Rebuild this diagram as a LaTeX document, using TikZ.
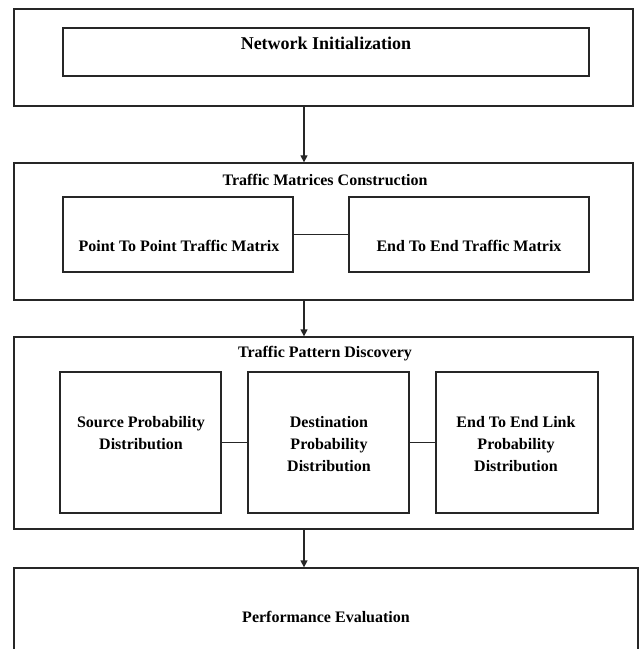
\documentclass[tikz,border=0pt]{standalone}
\usepackage{fontspec}
\setmainfont{Liberation Serif}
\usetikzlibrary{arrows.meta}
\begin{document}
\begin{tikzpicture}[x=1bp,y=-1bp,
  frame/.style={draw=black!85, line width=1.3bp, inner sep=0pt, rectangle},
  lbl/.style={font=\fontsize{16bp}{22bp}\selectfont\bfseries, inner sep=0pt, align=center, anchor=base},
  biglbl/.style={lbl, font=\fontsize{18bp}{22bp}\selectfont\bfseries},
  link/.style={draw=black!85, line width=1.3bp},
  flow/.style={link, -{Triangle[length=7bp,width=7bp]}}]
\useasboundingbox (0,0) rectangle (639,649);
% boxes
\node[frame, minimum width=619bp, minimum height=97bp] (o1) at (323.5,57.5) {};
\node[frame, minimum width=526bp, minimum height=48bp] (i1) at (326,52) {};
\node[frame, minimum width=619bp, minimum height=137bp] (o2) at (323.5,231.5) {};
\node[frame, minimum width=230bp, minimum height=75bp] (i2a) at (178,234.5) {};
\node[frame, minimum width=240bp, minimum height=75bp] (i2b) at (469,234.5) {};
\node[frame, minimum width=619bp, minimum height=192bp] (o3) at (323.5,433) {};
\node[frame, minimum width=161bp, minimum height=141bp] (i3a) at (140.5,442.5) {};
\node[frame, minimum width=161bp, minimum height=141bp] (i3b) at (328.5,442.5) {};
\node[frame, minimum width=162bp, minimum height=141bp] (i3c) at (517,442.5) {};
\node[frame, minimum width=624bp, minimum height=92bp] (o4) at (326,614) {};
% texts
\node[biglbl] (t1) at (326,50) {Network Initialization};
\node[lbl] (t2) at (325,185) {Traffic Matrices Construction};
\node[lbl] (t2a) at (179,251) {Point To Point Traffic Matrix};
\node[lbl] (t2b) at (469,251) {End To End Traffic Matrix};
\node[lbl] (t3) at (325,357) {Traffic Pattern Discovery};
\node[lbl] (t3a) at (141,449) {Source Probability\\Distribution};
\node[lbl] (t3b) at (329,471) {Destination\\Probability\\Distribution};
\node[lbl] (t3c) at (516,471) {End To End Link\\Probability\\Distribution};
\node[lbl] (t4) at (326,622) {Performance Evaluation};
% connectors
\coordinate (ax) at (304,0);
\draw[flow] (o1.south -| ax) -- (o2.north -| ax);
\draw[flow] (o2.south -| ax) -- (o3.north -| ax);
\draw[flow] (o3.south -| ax) -- (o4.north -| ax);
\draw[link] (i2a.east) -- (i2b.west);
\draw[link] (i3a.east) -- (i3b.west);
\draw[link] (i3b.east) -- (i3c.west);
\end{tikzpicture}
\end{document}
